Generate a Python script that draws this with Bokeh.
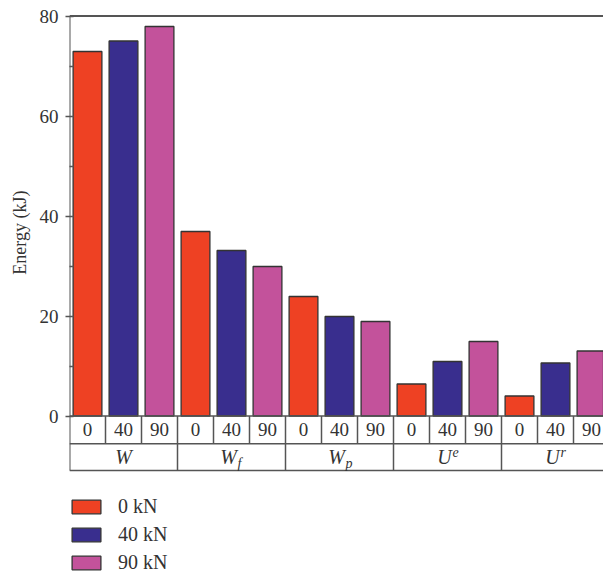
from bokeh.plotting import figure
from bokeh.models import ColumnDataSource, FixedTicker, Legend, LegendItem, Title
from bokeh.core.properties import value
from bokeh.embed import file_html
from bokeh.resources import INLINE

# ---- data ----
groups = ["W", "Wf", "Wp", "Ue", "Ur"]
group_main = ["W", "W", "W", "U", "U"]
group_sub = ["", "f", "p", "", ""]
group_sup = ["", "", "", "e", "r"]
loads = ["0", "40", "90"]
legend_labels = ["0 kN", "40 kN", "90 kN"]
energy_0 = [72.9, 36.9, 23.9, 6.4, 4.0]
energy_40 = [75.0, 33.1, 19.9, 10.9, 10.6]
energy_90 = [77.9, 29.9, 18.9, 14.9, 13.0]
y_ticks = [0, 20, 40, 60, 80]
y_minor = [10, 30, 50, 70]
y_label = "Energy (kJ)"
colors = ["#EE4123", "#392E8E", "#C3529B"]

FONT = "Liberation Serif"
LINE = "#555555"
TXT = "#333333"

n_g = len(groups)
n_l = len(loads)
n_slots = n_g * n_l

W, H = 603, 576
BL, BT = 69, 14
frame_w = W - BL
frame_h = H - BT
px_per_slot = 36
px_per_unit = 5.0
y_top = 80.3
x_end = frame_w / px_per_slot
y_bot = y_top - frame_h / px_per_unit
row_sep = -5.56
row_bot = -10.9

p = figure(width=W, height=H, x_range=(0, x_end), y_range=(y_bot, y_top),
           output_backend="svg", toolbar_location=None, x_axis_location=None,
           min_border_top=BT, min_border_left=BL, min_border_right=0, min_border_bottom=0)
p.outline_line_color = None
p.xgrid.grid_line_color = None
p.ygrid.grid_line_color = None

series = [energy_0, energy_40, energy_90]
items = []
for s, vals in enumerate(series):
    xs = [g * n_l + s + 0.5 for g in range(n_g)]
    src = ColumnDataSource(dict(x=xs, top=vals))
    r = p.vbar(x="x", top="top", bottom=0, width=0.8, source=src, fill_color=colors[s],
               line_color="#333333", line_width=1.3)
    items.append(LegendItem(label=legend_labels[s], renderers=[r]))

# frame lines
p.segment(x0=[0], x1=[x_end], y0=[80], y1=[80], line_color=LINE, line_width=2)
p.segment(x0=[0], x1=[x_end], y0=[0], y1=[0], line_color=LINE, line_width=1.5)
p.segment(x0=[0], x1=[0], y0=[row_bot], y1=[80], line_color=LINE, line_width=2)

# table lines
p.segment(x0=[0], x1=[x_end], y0=[row_sep], y1=[row_sep], line_color=LINE, line_width=1.5)
p.segment(x0=[0], x1=[x_end], y0=[row_bot], y1=[row_bot], line_color=LINE, line_width=1.5)
v1 = list(range(1, n_slots))
p.segment(x0=v1, x1=v1, y0=[0] * len(v1), y1=[row_sep] * len(v1), line_color=LINE, line_width=1.5)
v2 = [g * n_l for g in range(1, n_g)]
p.segment(x0=v2, x1=v2, y0=[row_sep] * len(v2), y1=[row_bot] * len(v2), line_color=LINE, line_width=1.5)

# table text row 1
lx = [i + 0.5 for i in range(n_slots)]
lt = [loads[i % n_l] for i in range(n_slots)]
p.text(x=lx, y=[row_sep / 2] * n_slots, text=lt, text_align="center", text_baseline="middle",
       text_font=value(FONT), text_font_size="19px", text_color=TXT)

# group labels row 2
gx = [g * n_l + n_l / 2 for g in range(n_g)]
gy = (row_sep + row_bot) / 2
main_off = [0 if (group_sub[g] == "" and group_sup[g] == "") else -3 for g in range(n_g)]
p.text(x=gx, y=[gy] * n_g, text=group_main, x_offset=main_off, text_align="center", text_baseline="middle",
       text_font=value(FONT), text_font_size="20px", text_font_style="italic", text_color=TXT)
p.text(x=gx, y=[gy] * n_g, text=group_sub, x_offset=6, y_offset=6, text_align="left", text_baseline="middle",
       text_font=value(FONT), text_font_size="14px", text_font_style="italic", text_color=TXT)
p.text(x=gx, y=[gy] * n_g, text=group_sup, x_offset=5, y_offset=-5, text_align="left", text_baseline="middle",
       text_font=value(FONT), text_font_size="14px", text_font_style="italic", text_color=TXT)

# y axis
ax = p.yaxis[0]
ax.ticker = FixedTicker(ticks=y_ticks, minor_ticks=y_minor)
ax.major_label_text_font = FONT
ax.major_label_text_font_size = "19px"
ax.major_label_text_color = TXT
ax.major_label_standoff = 7
ax.axis_line_color = None
ax.major_tick_in = 4
ax.major_tick_out = 4
ax.minor_tick_in = 4
ax.minor_tick_out = 0
ax.major_tick_line_color = LINE
ax.minor_tick_line_color = LINE
ax.major_tick_line_width = 1.5
ax.minor_tick_line_width = 1.5

ytitle = Title(text=y_label, align="right", offset=176, text_font=FONT, text_font_size="18px",
               text_font_style="normal", text_color=TXT, standoff=13)
p.add_layout(ytitle, "left")

legend = Legend(items=items, location=(-1, 2), orientation="vertical")
legend.margin = 0
legend.padding = 0
legend.border_line_color = None
legend.background_fill_alpha = 0
legend.glyph_width = 36
legend.glyph_height = 17
legend.label_height = 17
legend.spacing = 5
legend.label_standoff = 14
legend.label_text_font = FONT
legend.label_text_font_size = "20px"
legend.label_text_color = TXT
p.add_layout(legend, "center")

open("out.html", "w").write(file_html(p, INLINE))
